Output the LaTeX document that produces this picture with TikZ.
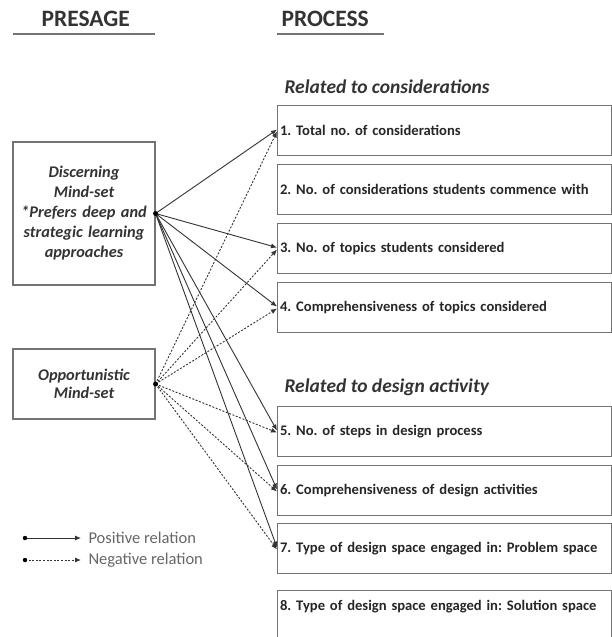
\documentclass[tikz,border=0pt]{standalone}
\usepackage{fontspec}
\setmainfont{Carlito}
\usetikzlibrary{arrows.meta}
\frenchspacing
\begin{document}
\begin{tikzpicture}[x=1pt,y=-1pt,
  box/.style={draw=black!55, line width=1.1pt},
  procbox/.style={box, anchor=north west, minimum width=334pt, minimum height=#1,
    text width=329pt, inner sep=2.5pt, align=left,
    font=\fontsize{14.6}{16}\selectfont\bfseries, text=black!85},
  procbox/.default=50pt,
  mindbox/.style={box, minimum width=142pt, text width=136pt, inner sep=3pt,
    align=center, font=\fontsize{16.3}{20}\selectfont\itshape, text=black!80},
  heading/.style={anchor=base west, font=\fontsize{23.5}{25}\selectfont\bfseries, text=black!80},
  subhead/.style={anchor=base west, font=\fontsize{19.5}{21}\selectfont\bfseries\itshape, text=black!80},
  rule/.style={draw=black!55, line width=1.3pt},
  posrel/.style={-{Latex[length=6pt,width=5pt]}, line width=0.9pt, draw=black!80},
  negrel/.style={posrel, dash pattern=on 2pt off 1.6pt},
  legtext/.style={anchor=west, font=\fontsize{16.5}{18}\selectfont, text=black!60},
  dot/.style={fill=black}
]
\useasboundingbox (0,0) rectangle (612,637);
\clip (0,0) rectangle (612,637);

% column headings
\node[heading] (presage) at (38,27) {PRESAGE};
\draw[rule] (13,34) -- (155,34);
\node[heading] (process) at (278,27) {PROCESS};
\draw[rule] (277,34) -- (384,34);

% presage boxes
\node[mindbox, minimum height=143pt] (dis) at (84,213.5)
  {\bfseries Discerning\\\bfseries Mind-set\\{}*Prefers deep and\\strategic learning\\approaches};
\node[mindbox, minimum height=70pt, font=\fontsize{16.3}{18}\selectfont\itshape\bfseries] (opp) at (84,384)
  {Opportunistic\\Mind-set};

% process: considerations
\node[subhead] (rc) at (281,93) {Related to considerations};
\node[procbox] (p1) at (277,105) {1. Total no. of considerations};
\node[procbox] (p2) at (277,164) {2. No. of considerations students commence with};
\node[procbox] (p3) at (277,223) {3. No. of topics students considered};
\node[procbox] (p4) at (277,282) {4. Comprehensiveness of topics considered};

% process: design activity
\node[subhead] (rd) at (281,392) {Related to design activity};
\node[procbox] (p5) at (277,406) {5. No. of steps in design process};
\node[procbox] (p6) at (277,465) {6. Comprehensiveness of design activities};
\node[procbox] (p7) at (277,523) {7. Type of design space engaged in: Problem space};
\node[procbox=55pt, text depth=26pt] (p8) at (277,590) {8. Type of design space engaged in: Solution space};

% relations
\foreach \t in {p1,p3,p4,p5,p6,p7}
  \draw[posrel] (dis.east) -- ([yshift=1pt]\t.west);
\foreach \t in {p1,p3,p4,p5,p6,p7}
  \draw[negrel] (opp.east) -- ([yshift=-1pt]\t.west);
\fill[dot] (dis.east) circle (2.5pt);
\fill[dot] (opp.east) circle (2.5pt);

% legend
\coordinate (la) at (25,538);
\coordinate (lb) at (81,538);
\coordinate (lc) at (25,560);
\coordinate (ld) at (81,560);
\draw[posrel] (la) -- (lb);
\draw[negrel] (lc) -- (ld);
\fill[dot] (la) circle (2.2pt);
\fill[dot] (lc) circle (2.2pt);
\node[legtext] (lp) at (85,538) {Positive relation};
\node[legtext] (ln) at (85,560) {Negative relation};
\end{tikzpicture}
\end{document}
